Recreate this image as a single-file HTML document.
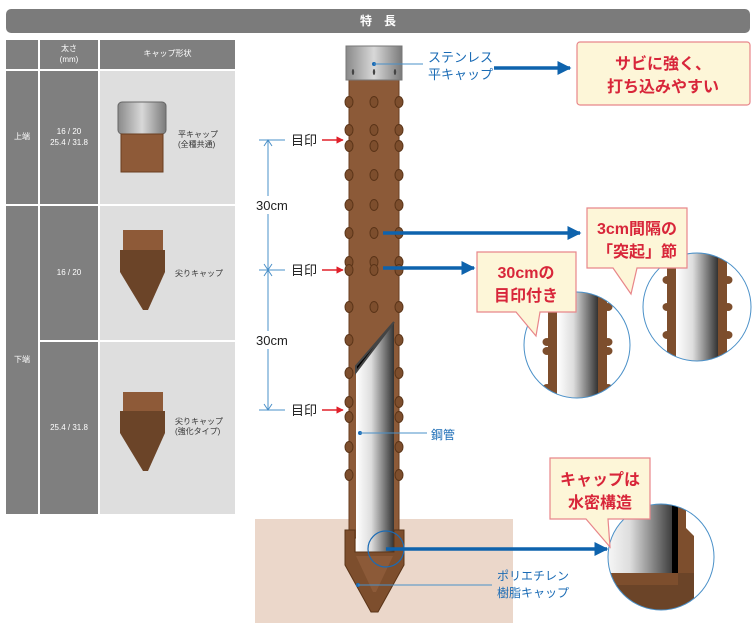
<!DOCTYPE html>
<html><head><meta charset="utf-8"><style>
body{margin:0;width:756px;height:623px;background:#fff;overflow:hidden;font-family:"Liberation Sans","Noto Sans CJK JP",sans-serif;position:relative}
.bar{position:absolute;left:6px;top:9px;width:744px;height:24px;background:#7b7b7b;border-radius:5px;color:#fff;font-size:12px;font-weight:bold;text-align:center;line-height:24px}
.c{position:absolute;box-sizing:border-box;display:flex;align-items:center;justify-content:center;text-align:center;font-size:8px;color:#fff;line-height:1.3}
.d{background:#7f7f7f}.l{background:#dedede;color:#333}
</style></head><body>
<div class="bar">特　長</div>
<div class="c d" style="left:6px;top:40px;width:32px;height:29px"></div>
<div class="c d" style="left:40px;top:40px;width:58px;height:29px">太さ<br>(mm)</div>
<div class="c d" style="left:100px;top:40px;width:135px;height:29px">キャップ形状</div>
<div class="c d" style="left:6px;top:71px;width:32px;height:133px">上端</div>
<div class="c d" style="left:40px;top:71px;width:58px;height:133px">16 / 20<br>25.4 / 31.8</div>
<div class="c l" style="left:100px;top:71px;width:135px;height:133px"></div>
<div class="c d" style="left:6px;top:206px;width:32px;height:308px">下端</div>
<div class="c d" style="left:40px;top:206px;width:58px;height:134px">16 / 20</div>
<div class="c d" style="left:40px;top:342px;width:58px;height:172px">25.4 / 31.8</div>
<div class="c l" style="left:100px;top:206px;width:135px;height:134px"></div>
<div class="c l" style="left:100px;top:342px;width:135px;height:172px"></div>
<svg style="position:absolute;left:0;top:0" width="756" height="623" font-family="Liberation Sans, Noto Sans CJK JP, sans-serif">
<defs>
<linearGradient id="st" x1="0" x2="1"><stop offset="0" stop-color="#8a8a8a"/><stop offset=".5" stop-color="#d8d8d8"/><stop offset="1" stop-color="#7a7a7a"/></linearGradient>
<linearGradient id="pp" x1="0" x2="1"><stop offset="0" stop-color="#fff"/><stop offset=".4" stop-color="#ddd"/><stop offset="1" stop-color="#333"/></linearGradient>
<marker id="ab" viewBox="0 0 10 10" refX="9" refY="5" markerWidth="4" markerHeight="4" orient="auto"><path d="M0,0L10,5L0,10z" fill="#0e63ad"/></marker>
<marker id="ar" viewBox="0 0 10 10" refX="9" refY="5" markerWidth="5" markerHeight="5" orient="auto"><path d="M0,0L10,5L0,10z" fill="#e0202a"/></marker>
<g id="bp"><ellipse cx="0" cy="0" rx="4" ry="5.5" fill="#7d4e2d" stroke="#5a3418" stroke-width="1"/></g>
<g id="sb"><ellipse cx="0" cy="0" rx="4.5" ry="4" fill="#7d4e2d"/></g>
</defs>
<!-- table icons -->
<rect x="118" y="102" width="48" height="32" rx="4" fill="url(#st)" stroke="#666"/>
<rect x="121" y="134" width="42" height="38" fill="#8e5a38" stroke="#6a3e20"/>
<text x="178" y="137" font-size="8" fill="#333">平キャップ</text><text x="178" y="147" font-size="8" fill="#333">(全種共通)</text>
<rect x="123" y="230" width="40" height="20" fill="#8e5a38"/><path d="M120,250h45v22l-17,38h-5l-23,-38z" fill="#6b4428"/>
<text x="175" y="276" font-size="8" fill="#333">尖りキャップ</text>
<rect x="123" y="392" width="40" height="20" fill="#8e5a38"/><path d="M120,411h45v22l-17,38h-5l-23,-38z" fill="#6b4428"/>
<text x="175" y="424" font-size="8" fill="#333">尖りキャップ</text><text x="175" y="434" font-size="8" fill="#333">(強化タイプ)</text>
<!-- ground -->
<rect x="255" y="519" width="258" height="104" fill="#ebd7ca"/>
<!-- pole -->
<rect x="349" y="78" width="50" height="460" fill="#8c5a38" stroke="#6a3e20"/>
<rect x="346" y="46" width="56" height="34" fill="url(#st)" stroke="#777"/>
<g fill="#444"><ellipse cx="353" cy="72" rx="1.2" ry="3"/><ellipse cx="374" cy="72" rx="1.2" ry="3"/><ellipse cx="395" cy="72" rx="1.2" ry="3"/></g>
<g>
<use href="#bp" x="349" y="102"/><use href="#bp" x="374" y="102"/><use href="#bp" x="399" y="102"/>
<use href="#bp" x="349" y="130"/><use href="#bp" x="374" y="130"/><use href="#bp" x="399" y="130"/>
<use href="#bp" x="349" y="146"/><use href="#bp" x="374" y="146"/><use href="#bp" x="399" y="146"/>
<use href="#bp" x="349" y="175"/><use href="#bp" x="374" y="175"/><use href="#bp" x="399" y="175"/>
<use href="#bp" x="349" y="205"/><use href="#bp" x="374" y="205"/><use href="#bp" x="399" y="205"/>
<use href="#bp" x="349" y="233"/><use href="#bp" x="374" y="233"/><use href="#bp" x="399" y="233"/>
<use href="#bp" x="349" y="262"/><use href="#bp" x="374" y="262"/><use href="#bp" x="399" y="262"/>
<use href="#bp" x="349" y="270"/><use href="#bp" x="374" y="270"/><use href="#bp" x="399" y="270"/>
<use href="#bp" x="349" y="307"/><use href="#bp" x="374" y="307"/><use href="#bp" x="399" y="307"/>
<use href="#bp" x="349" y="340"/><use href="#bp" x="399" y="340"/>
<use href="#bp" x="349" y="373"/><use href="#bp" x="399" y="373"/>
<use href="#bp" x="349" y="402"/><use href="#bp" x="399" y="402"/>
<use href="#bp" x="349" y="417"/><use href="#bp" x="399" y="417"/>
<use href="#bp" x="349" y="447"/><use href="#bp" x="399" y="447"/>
<use href="#bp" x="349" y="475"/><use href="#bp" x="399" y="475"/>
</g>
<path d="M394,322L394,552H356V372z" fill="url(#pp)"/>
<path d="M394,322L356,372V366L394,322z" stroke="#444" stroke-width="2"/>
<path d="M345,530h10v22h39v-22h10v35l-26,47h-7l-26,-47z" fill="#7d4e2d" stroke="#5a3418"/>
<path d="M356,556h37l-17,36h-3z" fill="#8c5a38"/>
<circle cx="386" cy="549" r="18" fill="none" stroke="#1a6bb5" stroke-width="1.2"/>
<!-- leaders -->
<circle cx="374" cy="64" r="2" fill="#1a6bb5"/><line x1="374" y1="64" x2="423" y2="64" stroke="#4a90c8"/>
<text x="428" y="62" font-size="13" fill="#1a6bb5">ステンレス</text><text x="428" y="79" font-size="13" fill="#1a6bb5">平キャップ</text>
<circle cx="360" cy="433" r="2" fill="#1a6bb5"/><line x1="360" y1="433" x2="427" y2="433" stroke="#4a90c8"/>
<text x="431" y="439" font-size="12" fill="#1a6bb5">鋼管</text>
<circle cx="358" cy="585" r="2" fill="#1a6bb5"/><line x1="358" y1="585" x2="492" y2="585" stroke="#4a90c8"/>
<text x="497" y="580" font-size="12" fill="#1a6bb5">ポリエチレン</text><text x="497" y="597" font-size="12" fill="#1a6bb5">樹脂キャップ</text>
<!-- blue arrows -->
<g stroke="#0e63ad" stroke-width="3.5" fill="none" marker-end="url(#ab)">
<line x1="494" y1="68" x2="570" y2="68"/><line x1="383" y1="233" x2="580" y2="233"/><line x1="383" y1="268" x2="474" y2="268"/><line x1="386" y1="549" x2="607" y2="549"/>
</g>
<!-- dimension -->
<g stroke="#4a90c8" fill="none" stroke-width="1">
<line x1="268" y1="140" x2="268" y2="410"/><line x1="259" y1="140" x2="285" y2="140"/><line x1="259" y1="270" x2="285" y2="270"/><line x1="259" y1="410" x2="285" y2="410"/>
<path d="M264,146L268,140L272,146M264,264L268,270L272,264M264,276L268,270L272,276M264,404L268,410L272,404"/>
</g>
<rect x="255" y="196" width="40" height="18" fill="#fff"/><rect x="255" y="331" width="40" height="18" fill="#fff"/>
<text x="256" y="210" font-size="13" fill="#222">30cm</text><text x="256" y="345" font-size="13" fill="#222">30cm</text>
<g font-size="13" fill="#222"><text x="291" y="145">目印</text><text x="291" y="275">目印</text><text x="291" y="415">目印</text></g>
<g stroke="#e0202a" stroke-width="1.5" marker-end="url(#ar)"><line x1="322" y1="140" x2="343" y2="140"/><line x1="322" y1="270" x2="343" y2="270"/><line x1="322" y1="410" x2="343" y2="410"/></g>
<!-- zoom circles -->
<defs>
<clipPath id="k1"><circle cx="577" cy="345" r="53"/></clipPath>
<clipPath id="k2"><circle cx="697" cy="307" r="54"/></clipPath>
<clipPath id="k3"><circle cx="661" cy="557" r="53"/></clipPath>
</defs>
<circle cx="577" cy="345" r="53" fill="#fff"/>
<g clip-path="url(#k1)">
<rect x="548" y="280" width="9" height="130" fill="#7d4e2d"/><rect x="598" y="280" width="9" height="130" fill="#7d4e2d"/>
<rect x="557" y="280" width="41" height="130" fill="url(#pp)"/>
<use href="#sb" x="547" y="342"/><use href="#sb" x="547" y="351"/><use href="#sb" x="547" y="388"/>
<use href="#sb" x="608" y="342"/><use href="#sb" x="608" y="351"/><use href="#sb" x="608" y="388"/><use href="#sb" x="608" y="307"/>
</g>
<circle cx="577" cy="345" r="53" fill="none" stroke="#4a90c8"/>
<circle cx="697" cy="307" r="54" fill="#fff"/>
<g clip-path="url(#k2)">
<rect x="667" y="240" width="9" height="130" fill="#7d4e2d"/><rect x="718" y="240" width="9" height="130" fill="#7d4e2d"/>
<rect x="676" y="240" width="42" height="130" fill="url(#pp)"/>
<use href="#sb" x="667" y="280"/><use href="#sb" x="667" y="307"/><use href="#sb" x="667" y="335"/>
<use href="#sb" x="728" y="280"/><use href="#sb" x="728" y="307"/><use href="#sb" x="728" y="335"/>
</g>
<circle cx="697" cy="307" r="54" fill="none" stroke="#4a90c8"/>
<circle cx="661" cy="557" r="53" fill="#fff"/>
<g clip-path="url(#k3)">
<rect x="600" y="500" width="75" height="75" fill="url(#pp)"/><rect x="672" y="500" width="6" height="75" fill="#000"/>
<path d="M678,500h8v28l8,8v50h-16z" fill="#7d4e2d"/>
<path d="M600,573h94v40h-82l-12,-15z" fill="#6b4428"/><path d="M600,573h78v12h-70z" fill="#7d4e2d"/></g>
<circle cx="661" cy="557" r="53" fill="none" stroke="#4a90c8"/>
<!-- callouts -->
<g fill="#fdf6d8" stroke="#e8868a" stroke-width="1.2">
<rect x="577" y="42" width="173" height="63" rx="3"/>
<path d="M477,252h99v60h-36l-4,24l-20,-24h-39z"/>
<path d="M587,208h100v60h-50l-6,26l-18,-26h-26z"/>
<path d="M550,458h100v61h-42l2,28l-24,-28h-36z"/>
</g>
<g font-size="16" font-weight="bold" fill="#d8263a" text-anchor="middle">
<text x="663" y="69">サビに強く、</text><text x="663" y="92">打ち込みやすい</text>
<text x="526" y="278">30cmの</text><text x="526" y="301">目印付き</text>
<text x="637" y="234">3cm間隔の</text><text x="637" y="257">「突起」節</text>
<text x="600" y="485">キャップは</text><text x="600" y="508">水密構造</text>
</g>
</svg>
</body></html>
